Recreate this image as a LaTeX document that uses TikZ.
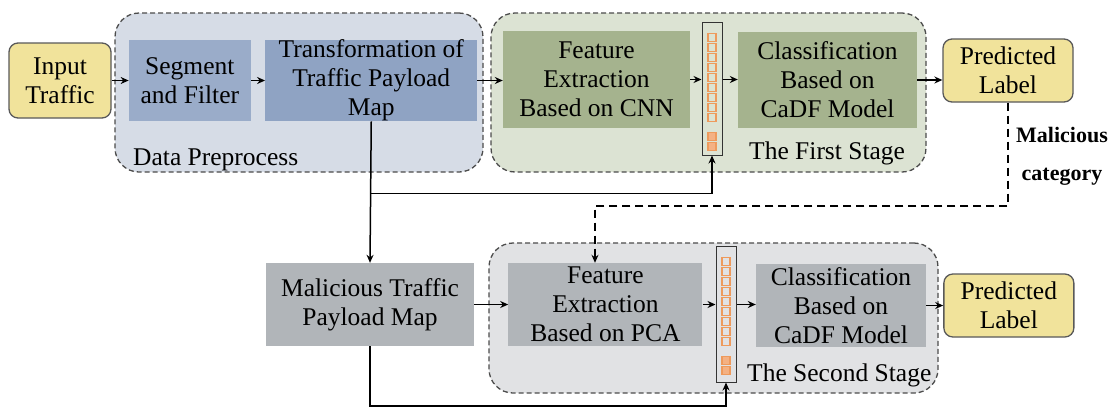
\documentclass[tikz,border=0pt]{standalone}
\usepackage{fontspec}
\setmainfont{Liberation Serif}
\newfontfamily\timesfont{Liberation Serif}
\usepackage{xcolor}
\usepackage{tikz}
\usetikzlibrary{arrows.meta, positioning}

\definecolor{ioyellow}{HTML}{F1E39B}
\definecolor{prebg}{HTML}{D6DCE6}
\definecolor{segblue}{HTML}{9AACC9}
\definecolor{transblue}{HTML}{8FA3C3}
\definecolor{onebg}{HTML}{DCE3D3}
\definecolor{onegreen}{HTML}{A5B38E}
\definecolor{twobg}{HTML}{E1E2E4}
\definecolor{twogray}{HTML}{B1B5B9}
\definecolor{cellorange}{HTML}{EE9A5C}
\definecolor{cellfill}{HTML}{F4B183}

\begin{document}
\begin{tikzpicture} [
        x = 1pt, y = -1pt,
        font = \timesfont\fontsize{25.5}{29}\selectfont,
        stage/.style = {rectangle, rounded corners=24pt, draw=black!70, dash pattern=on 5pt off 3pt, line width=1.3pt, inner sep=0pt},
        io/.style = {rectangle, rounded corners=9pt, draw=black!65, line width=1.3pt, fill=ioyellow, align=center, inner sep=0pt, minimum width=130pt, minimum height=63pt},
        block/.style = {rectangle, align=center, inner sep=0pt},
        vec/.style = {rectangle, draw=black!80, line width=1pt, minimum width=20pt, inner sep=0pt},
        cell/.style = {rectangle, draw=cellorange, line width=1.1pt, minimum size=8pt, inner sep=0pt},
        edge/.style = {draw, -{Stealth[length=8pt, width=7pt]}, line width=1.5pt},
        tag/.style = {anchor=base west, inner sep=0pt}
    ]
    \useasboundingbox (0,0) rectangle (1115,408);

    % stages
    \node[stage, fill=prebg, minimum width=368pt, minimum height=159pt] (pre) at (299,92.5) {};
    \node[stage, fill=onebg, minimum width=435pt, minimum height=159pt] (one) at (708.5,92.5) {};
    \node[stage, fill=twobg, minimum width=449pt, minimum height=150pt] (two) at (713.5,318) {};
    \node[tag] (pretag) at (133,165) {Data Preprocess};
    \node[tag] (onetag) at (749,159) {The First Stage};
    \node[tag] (twotag) at (747,381) {The Second Stage};

    % first stage row
    \node[io, minimum width=102pt, minimum height=75pt] (inp) at (60,80.5) {Input\\Traffic};
    \node[block, fill=segblue, minimum width=122pt, minimum height=81pt, right=17pt of inp] (seg) {Segment\\and Filter};
    \node[block, fill=transblue, minimum width=212pt, minimum height=81pt, right=14pt of seg] (trans) {Transformation of\\Traffic Payload\\Map};
    \node[block, fill=onegreen, minimum width=187pt, minimum height=97pt] (cnn) at (596.5,79.5) {Feature\\Extraction\\Based on CNN};
    \node[vec, minimum height=133pt] (bar1) at (712,88.5) {};
    \node[block, fill=onegreen, minimum width=179pt, minimum height=96pt] (cls1) at (827.5,80) {Classification\\Based on\\CaDF Model};
    \node[io] (pred1) at (1008,70.5) {Predicted\\Label};

    % second stage row
    \node[block, fill=twogray, minimum width=208pt, minimum height=83pt] (mal) at (370,304.5) {Malicious Traffic\\Payload Map};
    \node[block, fill=twogray, minimum width=194pt, minimum height=83pt, right=34pt of mal] (pca) {Feature\\Extraction\\Based on PCA};
    \node[vec, minimum height=136pt] (bar2) at (726,314) {};
    \node[block, fill=twogray, minimum width=170pt, minimum height=83pt] (cls2) at (841,305.5) {Classification\\Based on\\CaDF Model};
    \node[io, right=17pt of cls2] (pred2) {Predicted\\Label};

    % feature vectors
    \foreach \b in {bar1, bar2} {
        \foreach \k in {0,...,8}
            \node[cell] (\b c\k) at ([yshift={-(16+10*\k)*1pt}]\b.north) {};
        \foreach \k in {0,1}
            \node[cell, fill=cellfill] (\b f\k) at ([yshift={-(115+10*\k)*1pt}]\b.north) {};
    }

    \node[font=\timesfont\bfseries\fontsize{22}{38}\selectfont, align=center, inner sep=0pt] (cat) at (1062,156) {Malicious\\category};

    \coordinate (j1) at ([yshift=-72pt]trans.south);
    \coordinate (j2) at ([yshift=-60pt]mal.south);
    \coordinate (d1) at (595,206);

    \path[edge] (inp) -- (seg);
    \path[edge] (seg) -- (trans);
    \path[edge] (trans.east) -- (trans.east -| cnn.west);
    \path[edge] (cnn) -- (cnn -| bar1.west);
    \path[edge] (cnn -| bar1.east) -- (cnn -| cls1.west);
    \path[edge] (cls1.east) -- (cls1.east -| pred1.west);
    \path[edge] (trans.south) -- (mal.north);
    \path[edge] (j1) -| (bar1.south);
    \path[edge] (mal.south) -- (j2) -| (bar2.south);
    \path[edge] (mal) -- (pca);
    \path[edge] (pca) -- (pca -| bar2.west);
    \path[edge] (pca -| bar2.east) -- (pca -| cls2.west);
    \path[edge] (cls2) -- (pred2);
    \path[edge, dash pattern=on 8pt off 5pt] (pred1.south) |- (d1) -- (d1 |- pca.north);

\end{tikzpicture}
\end{document}
